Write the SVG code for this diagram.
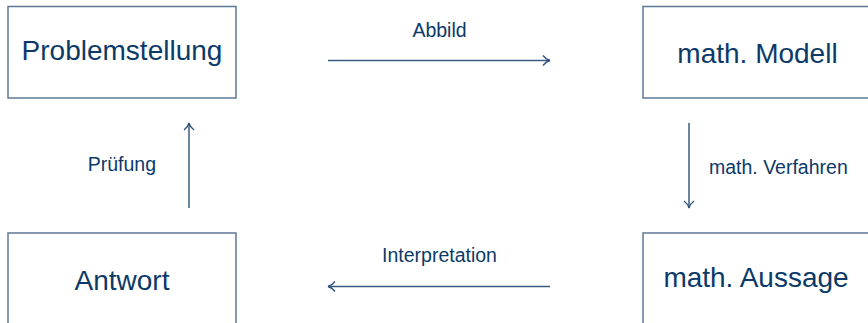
<svg xmlns="http://www.w3.org/2000/svg" width="868" height="323" viewBox="0 0 868 323">
  <defs>
    <marker id="open-tip" viewBox="0 0 10 12" refX="9" refY="6" markerWidth="10" markerHeight="12" markerUnits="userSpaceOnUse" orient="auto">
      <path d="M2,1 Q5,5 9,6 Q5,7 2,11" fill="none" stroke="#2f527a" stroke-width="1.3"/>
    </marker>
  </defs>
  <style>
    .box { fill: #ffffff; stroke: #5d7896; stroke-width: 1.5; }
    .node-text { font-family: "Liberation Sans", Arial, sans-serif; font-size: 28px; fill: #0c3a68; text-anchor: middle; }
    .label { font-family: "Liberation Sans", Arial, sans-serif; font-size: 19.5px; fill: #0c3a68; }
    .edge { stroke: #3a5c82; stroke-width: 1.5; fill: none; marker-end: url(#open-tip); }
  </style>
  <rect width="868" height="323" fill="#ffffff"/>

  <g id="node-problemstellung">
    <rect class="box" x="8" y="6.5" width="228" height="91.5"/>
    <text class="node-text" x="122" y="60">Problemstellung</text>
  </g>
  <g id="node-modell">
    <rect class="box" x="643" y="6.5" width="228" height="91.5"/>
    <text class="node-text" x="757.5" y="63">math. Modell</text>
  </g>
  <g id="node-antwort">
    <rect class="box" x="8" y="233" width="228" height="95"/>
    <text class="node-text" x="122" y="290">Antwort</text>
  </g>
  <g id="node-aussage">
    <rect class="box" x="643" y="233" width="228" height="95"/>
    <text class="node-text" x="756" y="287">math. Aussage</text>
  </g>

  <g id="connectors">
    <line class="edge" x1="328" y1="60.5" x2="550" y2="60.5"/>
    <text class="label" x="439.5" y="36.5" text-anchor="middle">Abbild</text>

    <line class="edge" x1="689" y1="123" x2="689" y2="208"/>
    <text class="label" x="709" y="174">math. Verfahren</text>

    <line class="edge" x1="550" y1="286.5" x2="328" y2="286.5"/>
    <text class="label" x="439.5" y="261.5" text-anchor="middle">Interpretation</text>

    <line class="edge" x1="189" y1="208" x2="189" y2="123"/>
    <text class="label" x="156" y="171" text-anchor="end">Prüfung</text>
  </g>
</svg>
